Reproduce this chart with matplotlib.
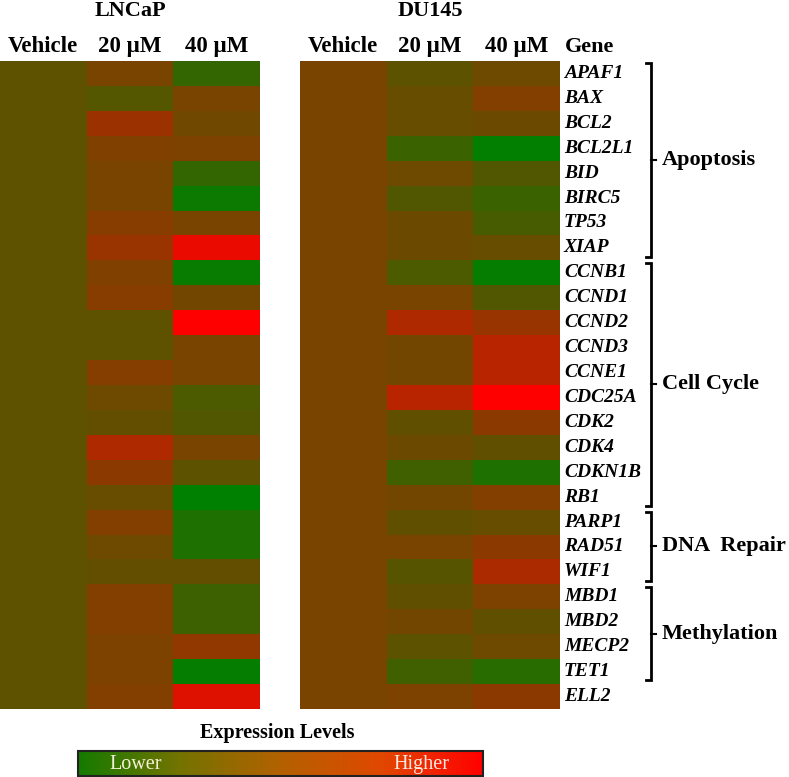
import numpy as np
import matplotlib
matplotlib.use('Agg')
import matplotlib.pyplot as plt
from matplotlib.colors import LinearSegmentedColormap, Normalize
from matplotlib.cm import ScalarMappable

plt.rcParams['font.family'] = ['Liberation Serif', 'DejaVu Serif']

# data
genes = ['APAF1', 'BAX', 'BCL2', 'BCL2L1', 'BID', 'BIRC5', 'TP53', 'XIAP',
         'CCNB1', 'CCND1', 'CCND2', 'CCND3', 'CCNE1', 'CDC25A', 'CDK2', 'CDK4',
         'CDKN1B', 'RB1', 'PARP1', 'RAD51', 'WIF1', 'MBD1', 'MBD2', 'MECP2',
         'TET1', 'ELL2']
conditions = ['Vehicle', '20 \u00b5M', '40 \u00b5M']

lncap_vehicle = [0.37] * 26
lncap_20 = [0.47, 0.33, 0.61, 0.50, 0.47, 0.47, 0.53, 0.60,
            0.50, 0.53, 0.37, 0.37, 0.52, 0.43, 0.39, 0.68,
            0.55, 0.41, 0.51, 0.43, 0.39, 0.51, 0.51, 0.49,
            0.49, 0.51]
lncap_40 = [0.20, 0.47, 0.44, 0.49, 0.20, 0.05, 0.47, 0.92,
            0.03, 0.45, 1.00, 0.47, 0.47, 0.30, 0.32, 0.47,
            0.36, 0.00, 0.12, 0.12, 0.39, 0.24, 0.24, 0.57,
            0.02, 0.87]

du145_vehicle = [0.47] * 26
du145_20 = [0.36, 0.40, 0.40, 0.23, 0.43, 0.32, 0.42, 0.42,
            0.30, 0.47, 0.68, 0.45, 0.45, 0.72, 0.38, 0.42,
            0.25, 0.45, 0.38, 0.47, 0.34, 0.38, 0.45, 0.36,
            0.25, 0.49]
du145_40 = [0.43, 0.51, 0.42, 0.01, 0.32, 0.23, 0.28, 0.40,
            0.02, 0.32, 0.59, 0.72, 0.72, 1.00, 0.55, 0.38,
            0.12, 0.51, 0.40, 0.55, 0.67, 0.49, 0.38, 0.43,
            0.16, 0.55]

groups = ['Apoptosis', 'Cell Cycle', 'DNA  Repair', 'Methylation']
group_start = [0, 8, 18, 21]
group_end = [8, 18, 21, 25]

cell_cmap = LinearSegmentedColormap.from_list('gr', [(0, 0.5, 0), (1, 0, 0)])
bar_cmap = LinearSegmentedColormap.from_list(
    'bar', [(0.08, 0.48, 0.0), (0.45, 0.45, 0.0), (0.70, 0.38, 0.0),
            (0.88, 0.28, 0.0), (1.0, 0.0, 0.0)])

W, H = 789, 777
fig = plt.figure(figsize=(W / 100, H / 100), dpi=100)

def px_axes(x0, y0, x1, y1):
    return fig.add_axes([x0 / W, 1 - y1 / H, (x1 - x0) / W, (y1 - y0) / H])

def heatmap(ax, cols, title):
    data = np.array(cols).T
    ax.pcolormesh(np.arange(4), np.arange(27), data, cmap=cell_cmap, vmin=0, vmax=1)
    ax.set_xlim(0, 3)
    ax.set_ylim(26, 0)
    ax.axis('off')
    for i, c in enumerate(conditions):
        ax.text(i + 0.5, -0.36, c, ha='center', va='baseline',
                fontsize=16.5, fontweight='bold', clip_on=False)
    ax.text(1.5, -1.8, title, ha='center', va='baseline',
            fontsize=16, fontweight='bold', clip_on=False)

ax1 = px_axes(0, 61, 260, 709)
heatmap(ax1, [lncap_vehicle, lncap_20, lncap_40], 'LNCaP')

ax2 = px_axes(300, 61, 560, 709)
heatmap(ax2, [du145_vehicle, du145_20, du145_40], 'DU145')

# gene labels
colw = 260 / 3
ax2.text((565 - 300) / colw, -0.36, 'Gene', ha='left', va='baseline',
         fontsize=16, fontweight='bold', clip_on=False)
for i, g in enumerate(genes):
    ax2.text((564 - 300) / colw, i + 0.68, g, ha='left', va='baseline',
             fontsize=14, fontweight='bold', style='italic', clip_on=False)

# brackets
bx = (651 - 300) / colw
tick = 5 / colw
for name, s, e in zip(groups, group_start, group_end):
    top, bot = s + 0.1, e - 0.15
    mid = (top + bot) / 2
    ax2.plot([bx - tick, bx, bx, bx - tick], [top, top, bot, bot],
             color='black', lw=2, clip_on=False, solid_joinstyle='miter')
    ax2.plot([bx, bx + tick * 1.1], [mid, mid], color='black', lw=1.5, clip_on=False)
    ax2.text(bx + 11 / colw, mid, name, ha='left', va='center',
             fontsize=16, fontweight='bold', clip_on=False)

# colour bar
cax = px_axes(78, 751, 483, 776)
cb = fig.colorbar(ScalarMappable(Normalize(0, 1), bar_cmap), cax=cax,
                  orientation='horizontal')
cb.set_ticks([])
cb.outline.set_linewidth(1.5)
cb.outline.set_edgecolor('#222222')
cax.text(0.078, 0.45, 'Lower', transform=cax.transAxes, ha='left', va='center',
         fontsize=14.5, color='#f4f0d8')
cax.text(0.918, 0.45, 'Higher', transform=cax.transAxes, ha='right', va='center',
         fontsize=14.5, color='#f8e8e0')
fig.text(277 / W, 1 - 733 / H, 'Expression Levels', ha='center', va='center',
         fontsize=14.5, fontweight='bold')

fig.savefig('out.png', dpi=100)
